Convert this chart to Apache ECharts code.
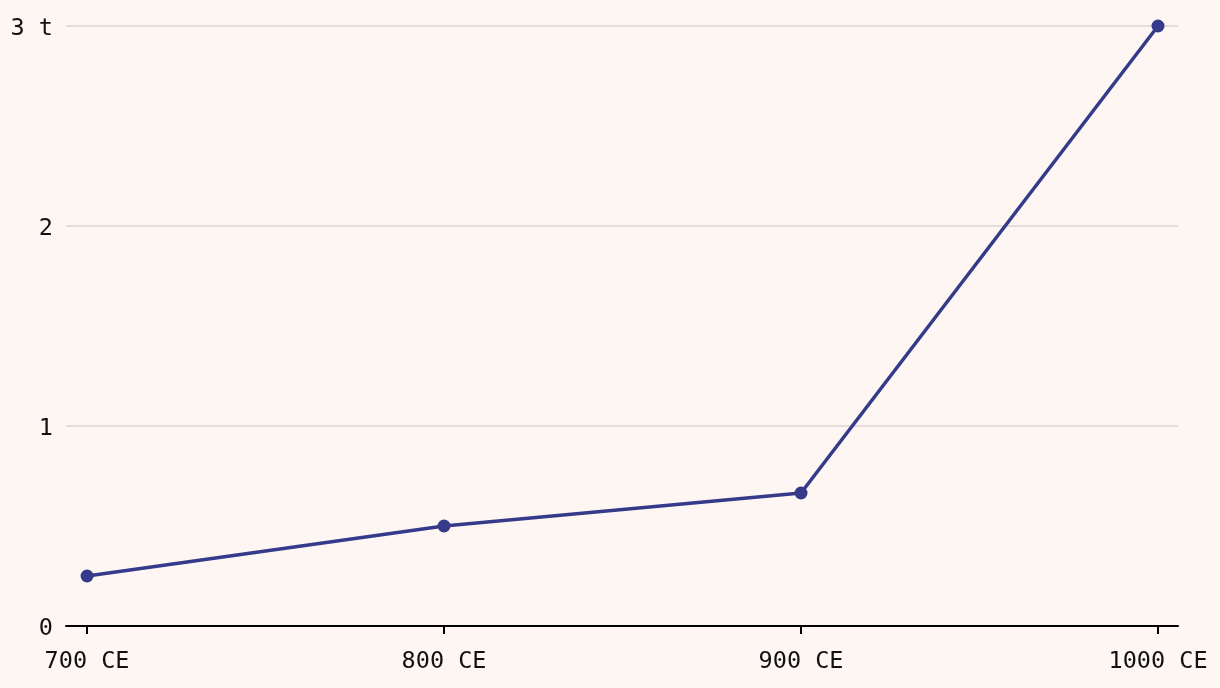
<!DOCTYPE html>
<html><head><meta charset="utf-8">
<script src="https://cdn.jsdelivr.net/npm/echarts@6/dist/echarts.min.js"></script>
<style>html,body{margin:0;padding:0;background:#fdf6f3;}#c{width:1220px;height:688px;}</style>
</head><body><div id="c"></div>
<script>
const years = [700, 800, 900, 1000];
const yearLabels = ['700 CE', '800 CE', '900 CE', '1000 CE'];
const tonnes = [0.25, 0.5, 0.665, 3];
const yTicks = [0, 1, 2, 3];

const chart = echarts.init(document.getElementById('c'));
const font = 'DejaVu Sans Mono';
chart.setOption({
  backgroundColor: '#fdf6f3',
  animation: false,
  grid: { left: 66, right: 42, top: 26, bottom: 62, containLabel: false },
  xAxis: {
    type: 'value', min: 694.1, max: 1005.6,
    axisLine: { lineStyle: { color: '#000', width: 2 } },
    axisTick: { show: true, length: 8, lineStyle: { color: '#000', width: 2 }, customValues: years },
    axisLabel: { customValues: years, color: '#111', fontFamily: font, fontSize: 23.5, margin: 24,
      formatter: v => yearLabels[years.indexOf(v)] },
    splitLine: { show: false }
  },
  yAxis: {
    type: 'value', min: 0, max: 3, interval: 1,
    axisLabel: { color: '#111', fontFamily: font, fontSize: 23.5, margin: 13,
      formatter: v => '{a|' + (v === 3 ? '3 t' : String(v)) + '}',
      rich: { a: { color: '#111', fontFamily: font, fontSize: 23.5, padding: [5, 0, 0, 0] } } },
    axisLine: { show: false }, axisTick: { show: false },
    splitLine: { lineStyle: { color: '#ddd3d3', width: 1.5 } }
  },
  series: [{
    type: 'line',
    data: years.map((y, i) => [y, tonnes[i]]),
    symbol: 'circle', symbolSize: 13,
    lineStyle: { color: '#353a8b', width: 3.5 },
    itemStyle: { color: '#353a8b' }
  }]
});
</script></body></html>
